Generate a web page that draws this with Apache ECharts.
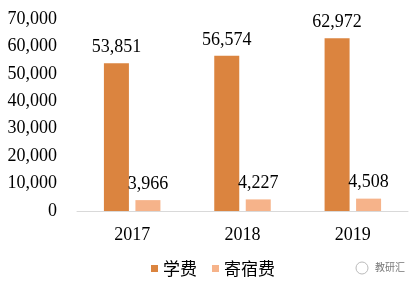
<!DOCTYPE html>
<html>
<head>
<meta charset="utf-8">
<script src="https://cdn.jsdelivr.net/npm/echarts@6/dist/echarts.min.js"></script>
<style>
    html, body { margin: 0; padding: 0; background: #fff; }
    #chart { width: 417px; height: 284px; }
</style>
</head>
<body>
<div id="chart"></div>
<script>
    // 数据
    let years = ['2017', '2018', '2019'];
    let tuition = [53851, 56574, 62972];     // 学费
    let boarding = [3966, 4227, 4508];       // 寄宿费
    let yTicks = [0, 10000, 20000, 30000, 40000, 50000, 60000, 70000];

    let serif = '"Liberation Serif", "DejaVu Serif", serif';
    let fmt = function (v) {
        return String(v).replace(/\B(?=(\d{3})+(?!\d))/g, ',');
    };

    let labelStyle = {
        show: true,
        position: 'top',
        distance: 7,
        fontFamily: serif,
        fontSize: 18,
        color: '#000',
        formatter: function (p) {
            return fmt(p.value);
        }
    };

    let option = {
        animation: false,
        backgroundColor: '#fff',
        grid: {
            left: 77,
            right: 9,
            top: 19,
            bottom: 73
        },
        legend: {
            bottom: 2,
            left: 146,
            itemWidth: 7,
            itemHeight: 7,
            itemGap: 15,
            icon: 'rect',
            textStyle: {
                fontFamily: '"Noto Sans CJK SC", sans-serif',
                fontSize: 17,
                color: '#000'
            },
            data: ['学费', '寄宿费']
        },
        xAxis: {
            type: 'category',
            data: years,
            axisLine: {lineStyle: {color: '#D9D9D9', width: 1}},
            axisTick: {show: false},
            axisLabel: {
                fontFamily: serif,
                fontSize: 18,
                color: '#000',
                margin: 15
            }
        },
        yAxis: {
            type: 'value',
            min: yTicks[0],
            max: yTicks[yTicks.length - 1],
            interval: 10000,
            axisLine: {show: false},
            axisTick: {show: false},
            splitLine: {show: false},
            axisLabel: {
                fontFamily: serif,
                fontSize: 18,
                color: '#000',
                margin: 20,
                formatter: fmt
            }
        },
        series: [
            {
                name: '学费',
                type: 'bar',
                data: tuition,
                barWidth: 25,
                barGap: '26%',
                itemStyle: {color: '#DB843F'},
                label: labelStyle
            },
            {
                name: '寄宿费',
                type: 'bar',
                data: boarding,
                barWidth: 25,
                itemStyle: {color: '#F6B38A'},
                label: labelStyle
            }
        ],
        graphic: [
            {
                type: 'text',
                left: 375,
                top: 262,
                style: {
                    text: '教研汇',
                    fontFamily: '"Noto Sans CJK SC", sans-serif',
                    fontSize: 10,
                    fill: '#777'
                }
            },
            {
                type: 'circle',
                shape: {cx: 362, cy: 268, r: 6},
                style: {fill: 'none', stroke: '#bbb', lineWidth: 1}
            }
        ]
    };

    let chart = echarts.init(document.getElementById('chart'));
    chart.setOption(option);
</script>
</body>
</html>
